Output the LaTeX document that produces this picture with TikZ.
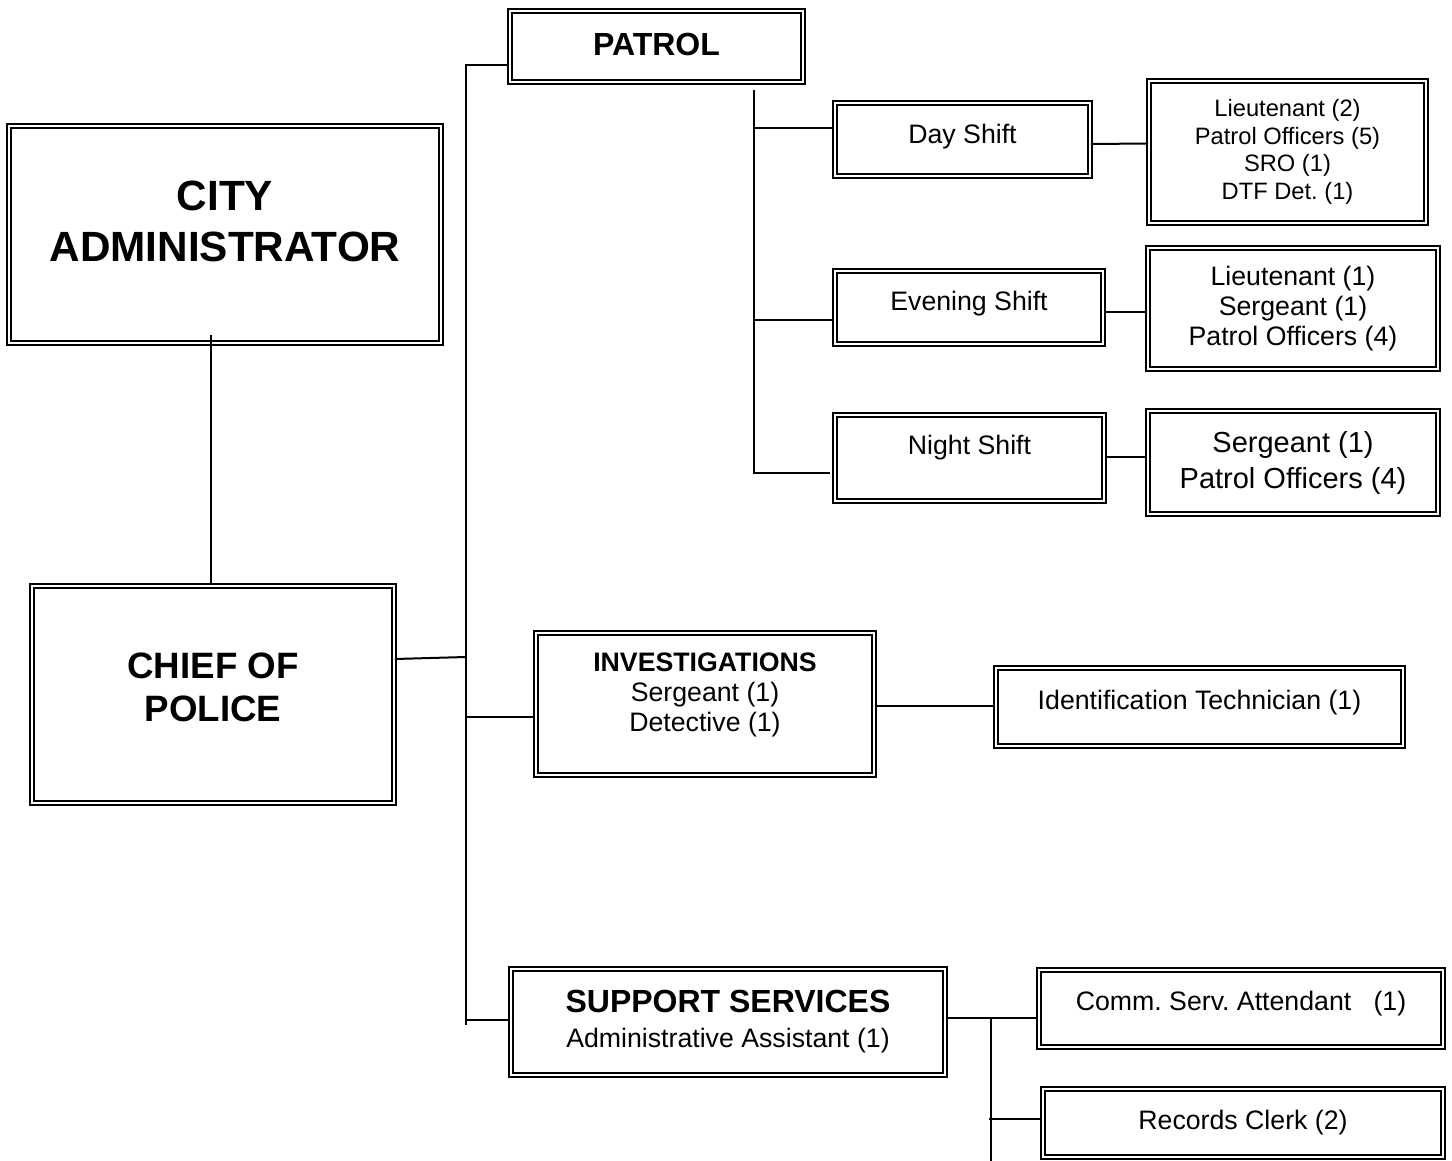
\documentclass[tikz,border=0pt]{standalone}
\usepackage{fontspec}
\setmainfont{Liberation Sans}
\newcommand\padlow[1]{\rule[-#1]{0pt}{0pt}}
\frenchspacing

\begin{document}
\begin{tikzpicture}[x=1pt,y=-1pt]
  \tikzstyle{unit} = [draw, line width=2.4pt, double=white, double distance=1.6pt, inner sep=0pt, align=center]
  \tikzstyle{txt} = [font=\fontsize{26.7}{30}\selectfont]
  \tikzstyle{crew} = [font=\fontsize{23.7}{27.5}\selectfont]
  \tikzstyle{head} = [font=\fontsize{32}{35}\selectfont\bfseries]
  \tikzstyle{link} = [line width=2pt]
  \useasboundingbox (0,0) rectangle (1452,1161);

  % top of the chart
  \draw (225,234.5) node[unit, minimum width=431.5, minimum height=216.5,
    font=\fontsize{42.3}{51}\selectfont\bfseries] (city) {CITY\\ADMINISTRATOR\padlow{26pt}};
  \draw (213,694.5) node[unit, minimum width=361.5, minimum height=216.5,
    font=\fontsize{36.7}{43}\selectfont\bfseries] (chief) {CHIEF OF\\POLICE\padlow{14pt}};
  \draw [link] ([xshift=-14pt,yshift=9pt]city.south) -- ([xshift=-2pt]chief.north);

  % divisions
  \draw (656.5,46.5) node[unit, head, minimum width=292.5, minimum height=70.5] (patrol) {PATROL\padlow{5pt}};
  \draw (705,704) node[unit, txt, minimum width=337.5, minimum height=141.5] (inv)
    {\textbf{INVESTIGATIONS}\\Sergeant (1)\\Detective (1)\padlow{23.6pt}};
  \draw (728,1022) node[unit, txt, minimum width=433.5, minimum height=105.5] (supp)
    {{\fontsize{32}{35}\selectfont\bfseries SUPPORT SERVICES}\\[5pt]Administrative Assistant (1)};
  \coordinate (tb) at (466,1025);
  \draw [link] ([yshift=-18.5pt]patrol.west) -| (tb);
  \draw [link] ([yshift=35.5pt]chief.east) -- ([yshift=37.5pt]chief.east -| tb);
  \draw [link] ([yshift=-13pt]inv.west) -- ([yshift=-13pt]inv.west -| tb);
  \draw [link] ([yshift=2pt]supp.west) -- ([yshift=2pt]supp.west -| tb);

  % patrol shifts
  \draw (962.5,139.5) node[unit, txt, minimum width=254.5, minimum height=72.5] (day) {Day Shift\padlow{12pt}};
  \draw (969,307.5) node[unit, txt, minimum width=267.5, minimum height=72.5] (eve) {Evening Shift\padlow{14pt}};
  \draw (969.5,458) node[unit, txt, minimum width=268.5, minimum height=85.5] (night) {Night Shift\padlow{26pt}};
  \draw [link] ([xshift=97.5pt,yshift=-7pt]patrol.south) |- ([xshift=-4pt,yshift=-15pt]night.west);
  \draw [link] ([yshift=11.5pt]day.west) -- ++(-80.75,0);
  \draw [link] ([yshift=-12.5pt]eve.west) -- ++(-80.75,0);

  \draw (1287.5,152) node[unit, crew, minimum width=276.5, minimum height=141.5] (dayc)
    {Lieutenant (2)\\Patrol Officers (5)\\SRO (1)\\DTF Det. (1)};
  \draw (1293,308.5) node[unit, txt, minimum width=289.5, minimum height=120.5] (evec)
    {Lieutenant (1)\\Sergeant (1)\\Patrol Officers (4)};
  \draw (1293,462.5) node[unit, minimum width=289.5, minimum height=102.5,
    font=\fontsize{29}{36}\selectfont] (nightc) {Sergeant (1)\\Patrol Officers (4)};
  \draw [link] ([yshift=-4.5pt]day.east) -- ([yshift=8.5pt]dayc.west);
  \draw [link] ([yshift=-4.5pt]eve.east) -- ([yshift=-3.5pt]evec.west);
  \draw [link] ([yshift=1pt]night.east) -- ([yshift=5.5pt]nightc.west);

  % investigations and support staff
  \draw (1199.5,707) node[unit, txt, minimum width=406.5, minimum height=77.5] (ident)
    {Identification Technician (1)\padlow{14.4pt}};
  \draw [link] ([yshift=-2pt]inv.east) -- ([yshift=1pt]ident.west);

  \draw (1241,1008.5) node[unit, txt, minimum width=403.5, minimum height=76.5] (comm)
    {Comm. Serv. Attendant \ \ (1)\padlow{14.4pt}};
  \draw (1243,1123) node[unit, txt, minimum width=399.5, minimum height=67.5] (rec) {Records Clerk (2)};
  \draw [link] ([yshift=4pt]supp.east) -- ([yshift=-9.5pt]comm.west);
  \draw [link] ([xshift=44.75pt,yshift=4pt]supp.east) -- ++(0,143);
  \draw [link] ([yshift=4pt]rec.west) -- ++(-52.75,0);
\end{tikzpicture}
\end{document}
